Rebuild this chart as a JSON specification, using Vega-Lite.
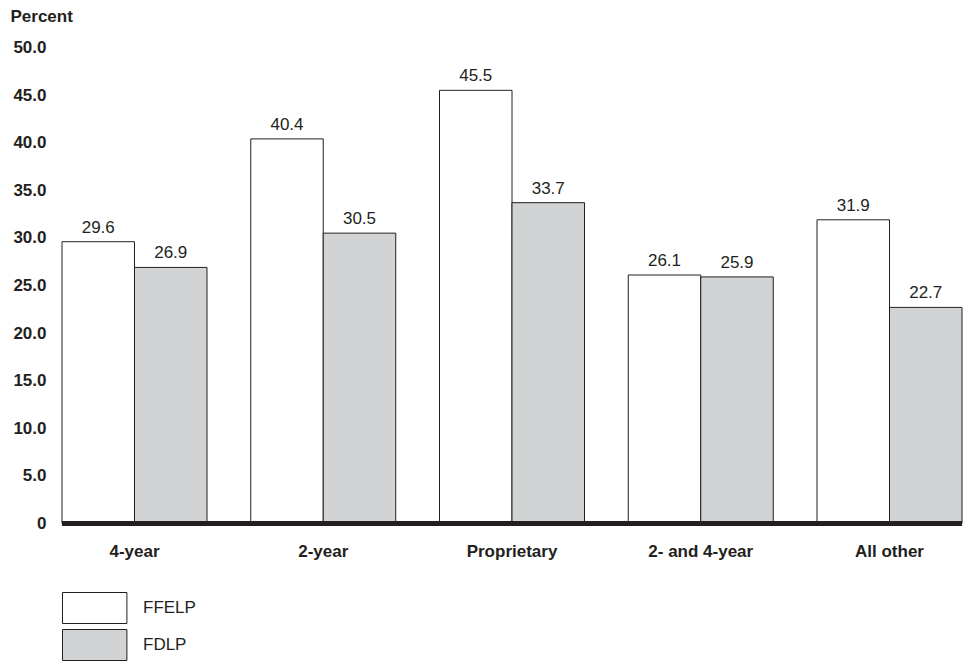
{
  "$schema": "https://vega.github.io/schema/vega-lite/v6.json",
  "autosize": {"type": "none"},
  "padding": {"left": 62, "top": 47.5, "right": 5, "bottom": 138.5},
  "width": 900,
  "height": 476,
  "background": "white",
  "config": {
    "view": {"stroke": null},
    "font": "Liberation Sans",
    "axis": {"labelColor": "#231f20", "titleColor": "#231f20"}
  },
  "data": {
    "values": [
      {"type": "4-year", "program": "FFELP", "percent": 29.6},
      {"type": "4-year", "program": "FDLP", "percent": 26.9},
      {"type": "2-year", "program": "FFELP", "percent": 40.4},
      {"type": "2-year", "program": "FDLP", "percent": 30.5},
      {"type": "Proprietary", "program": "FFELP", "percent": 45.5},
      {"type": "Proprietary", "program": "FDLP", "percent": 33.7},
      {"type": "2- and 4-year", "program": "FFELP", "percent": 26.1},
      {"type": "2- and 4-year", "program": "FDLP", "percent": 25.9},
      {"type": "All other", "program": "FFELP", "percent": 31.9},
      {"type": "All other", "program": "FDLP", "percent": 22.7}
    ]
  },
  "layer": [
    {
      "mark": {"type": "bar", "stroke": "#231f20", "strokeWidth": 1},
      "encoding": {
        "x": {
          "field": "type",
          "type": "nominal",
          "sort": ["4-year", "2-year", "Proprietary", "2- and 4-year", "All other"],
          "scale": {"paddingInner": 0.2318, "paddingOuter": 0},
          "axis": {
            "title": null,
            "labelAngle": 0,
            "labelFontWeight": "bold",
            "labelFontSize": 17,
            "labelBaseline": "alphabetic",
            "labelPadding": 33,
            "ticks": false,
            "domain": false
          }
        },
        "xOffset": {
          "field": "program",
          "type": "nominal",
          "sort": ["FFELP", "FDLP"],
          "scale": {"paddingInner": 0, "paddingOuter": 0}
        },
        "y": {
          "field": "percent",
          "type": "quantitative",
          "scale": {"domain": [0, 50], "nice": false},
          "axis": {
            "values": [0, 5, 10, 15, 20, 25, 30, 35, 40, 45, 50],
            "labelExpr": "datum.value == 0 ? '0' : format(datum.value, '.1f')",
            "labelFontWeight": "bold",
            "labelFontSize": 17,
            "labelPadding": 16,
            "ticks": false,
            "domain": false,
            "grid": false,
            "title": "Percent",
            "titleAngle": 0,
            "titleAlign": "left",
            "titleBaseline": "alphabetic",
            "titleX": -52,
            "titleY": -26.5,
            "titleFontSize": 17,
            "titleFontWeight": "bold"
          }
        },
        "fill": {
          "field": "program",
          "type": "nominal",
          "sort": ["FFELP", "FDLP"],
          "scale": {"domain": ["FFELP", "FDLP"], "range": ["#ffffff", "#d1d3d4"]},
          "legend": {
            "title": null,
            "orient": "none",
            "legendX": 0,
            "legendY": 544.5,
            "direction": "vertical",
            "padding": 0,
            "symbolType": "M-1,-1H3.155V1H-1Z",
            "symbolSize": 961,
            "symbolStrokeColor": "#231f20",
            "symbolStrokeWidth": 1,
            "symbolOpacity": 1,
            "labelFontSize": 17,
            "labelColor": "#231f20",
            "labelOffset": 49,
            "rowPadding": 1
          }
        }
      }
    },
    {
      "mark": {"type": "text", "baseline": "alphabetic", "dy": -9, "fontSize": 17, "color": "#231f20"},
      "encoding": {
        "x": {
          "field": "type",
          "type": "nominal",
          "sort": ["4-year", "2-year", "Proprietary", "2- and 4-year", "All other"]
        },
        "xOffset": {"field": "program", "type": "nominal", "sort": ["FFELP", "FDLP"]},
        "y": {"field": "percent", "type": "quantitative"},
        "text": {"field": "percent", "type": "quantitative", "format": ".1f"}
      }
    },
    {
      "mark": {"type": "rule", "strokeWidth": 5, "color": "#231f20"},
      "encoding": {"y": {"datum": 0}}
    }
  ]
}
